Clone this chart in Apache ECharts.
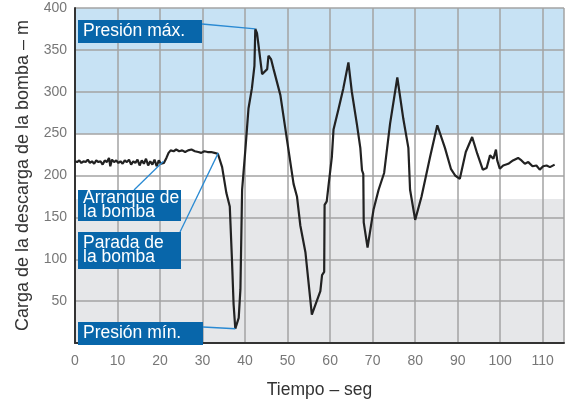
<!DOCTYPE html>
<html><head><meta charset="utf-8">
<script src="https://cdn.jsdelivr.net/npm/echarts@6/dist/echarts.min.js"></script>
<style>html,body{margin:0;padding:0;background:#fff}#c{width:567px;height:404px}</style>
</head><body><div id="c"></div>
<script>
// Time (s) and pump discharge head (m)
const timeSec = [0,0.5,1,1.5,2,2.5,3,3.5,4,4.5,5,5.5,6,6.5,7,7.5,8,8.3,8.7,9.2,9.7,10.2,10.7,11.2,11.7,12.2,12.7,13.2,13.7,14.2,14.7,15.2,15.7,16.2,16.7,17.2,17.7,18.2,18.7,19.2,19.7,20.2,20.6,20.9,21.5,22.0,22.5,23.2,23.8,24.5,25.2,25.9,26.6,27.4,28.2,29.0,29.7,30.4,31.2,32.0,32.8,33.6,34.6,35.6,36.4,36.9,37.3,37.7,38.5,38.9,39.3,40.1,40.8,41.6,42.2,42.4,42.8,43.2,44.0,45.2,45.5,46.1,46.7,48.3,49.9,51.4,52.2,53.0,54.2,55.7,56.1,57.7,58.1,58.6,58.7,59.2,59.6,60.4,60.8,62.0,63.1,64.3,65.1,66.3,67.1,67.5,67.8,67.9,68.8,70.2,71.4,72.7,74.1,75.8,77.2,78.4,78.8,80.0,81.5,83.5,85.2,87.0,88.4,89.4,90.5,91.9,93.4,94.6,95.9,96.8,97.6,98.4,99.0,99.3,99.9,100.7,101.9,103.0,104.2,105.0,105.8,106.6,107.6,108.5,109.3,110.1,110.9,111.7,112.8];
const headM = [217,216,218,215,217,216,219,215,217,214,218,216,217,213,218,216,221,211,219,216,218,215,217,214,218,216,219,213,217,215,219,212,218,214,220,212,217,213,219,211,218,214,216,215,221,227,230,229,231,229,230,228,230,231,229,228,227,229,228,228,227,226,210,179,163,101,46,17,30,64,183,233,280,304,331,375,370,354,321,327,343,339,327,296,241,190,175,140,108,34,32,62,81,85,165,169,187,222,255,280,304,335,300,261,233,206,202,144,114,159,183,203,262,317,268,233,183,147,175,222,260,233,208,200,196,228,246,226,207,209,224,220,231,218,208,212,214,218,221,218,214,216,211,212,207,211,212,210,213];
const xTicks = [0,10,20,30,40,50,60,70,80,90,100,110];
const yTicks = [0,50,100,150,200,250,300,350,400];
const bands = [[250,400,'#c7e2f4'],[0,172,'#e6e7e9']];
const annLabels = ['Presión máx.','Arranque de\nla bomba','Parada de\nla bomba','Presión mín.'];
const annTargets = [[42.4,375],[20.8,217],[33.7,227],[37.7,17]];

const boxes = [ // pixel boxes for label callouts
  {x:78,y:20,w:124,h:23, lx:202, ly:24},
  {x:78,y:190,w:103,h:31, lx:134, ly:190},
  {x:78,y:232,w:103,h:37, lx:180, ly:232},
  {x:78,y:322,w:125,h:23, lx:203, ly:327}
];

const chart = echarts.init(document.getElementById('c'), null, {renderer:'canvas'});
const lineData = timeSec.map((t,i)=>[t, headM[i]]);

const graphics = [];
annLabels.forEach((txt,i)=>{
  const b = boxes[i];
  graphics.push({type:'rect', shape:{x:b.x,y:b.y,width:b.w,height:b.h}, style:{fill:'#0866aa'}, z:100});
  graphics.push({type:'text', x:b.x+5, y:b.y+b.h/2, style:{text:txt, fill:'#fff', font:'17.5px "Liberation Sans", Arial, sans-serif', verticalAlign:'middle', lineHeight:14}, z:101});
});

chart.setOption({
  animation:false,
  grid:{left:75, right:3, top:8, bottom:55, show:false},
  xAxis:{type:'value', min:0, max:115, interval:10, z:3,
    axisLine:{show:true, onZero:false, lineStyle:{color:'#333', width:2}},
    axisTick:{show:false},
    axisLabel:{color:'#777', fontSize:14, margin:11, fontFamily:'Liberation Sans', showMaxLabel:false},
    splitLine:{show:true, lineStyle:{color:'#a3a3a3', width:1.5}},
    name:'Tiempo – seg', nameLocation:'middle', nameGap:38,
    nameTextStyle:{color:'#333', fontSize:17.5, fontFamily:'Liberation Sans'}
  },
  yAxis:{type:'value', min:0, max:400, interval:50, z:3,
    axisLine:{show:true, lineStyle:{color:'#333', width:2}},
    axisTick:{show:false},
    axisLabel:{color:'#777', fontSize:14, margin:8, fontFamily:'Liberation Sans', formatter:v=> v===0?'':v},
    splitLine:{show:true, lineStyle:{color:'#a3a3a3', width:1.5}},
    name:'Carga de la descarga de la bomba – m', nameLocation:'middle', nameGap:43, nameRotate:90,
    nameTextStyle:{color:'#333', fontSize:18, fontFamily:'Liberation Sans'}
  },
  series:[
    {type:'line', data:[], z:1, silent:true,
      markArea:{silent:true, z:1, data: bands.map(b=>[{yAxis:b[0], itemStyle:{color:b[2]}},{yAxis:b[1]}])}
    },
    {type:'line', data:lineData, showSymbol:false, symbol:'none', z:5,
      lineStyle:{color:'#222', width:2.2},
      markLine:{silent:true, z:6, symbol:['none','none'], label:{show:false},
        lineStyle:{color:'#2a8ad3', width:1.3, type:'solid'},
        data: annTargets.map((c,i)=>[{x:boxes[i].lx, y:boxes[i].ly},{coord:c}])
      }
    }
  ],
  graphic: graphics
});
</script>
</body></html>
